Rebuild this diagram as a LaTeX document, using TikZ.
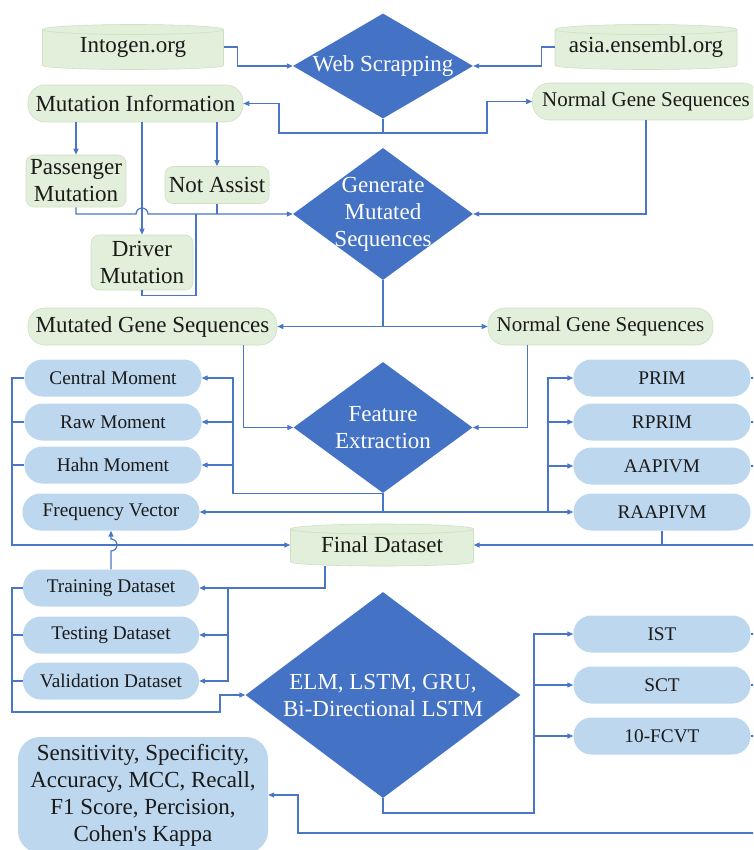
\documentclass[tikz,border=0pt]{standalone}
\usepackage{fontspec}
\setmainfont{Liberation Serif}
\usetikzlibrary{shapes.geometric,arrows.meta,calc}
\definecolor{gfill}{HTML}{E2EFDA}
\definecolor{gline}{HTML}{CFE0C3}
\definecolor{bfill}{HTML}{BDD7EE}
\definecolor{dfill}{HTML}{4472C4}
\definecolor{lc}{HTML}{4A76C6}
\definecolor{tc}{HTML}{1A1A1A}
\newcommand\bigfnt{\fontsize{23}{27}\selectfont}
\newcommand\midfnt{\fontsize{21}{25}\selectfont}
\newcommand\smfnt{\fontsize{19.3}{23}\selectfont}
\newcommand\greencyl[6]{%
  \path[fill=gfill,draw=gline,line width=0.6pt]
    (#2-#4/2,#3+#5/2-5) -- (#2-#4/2,#3-#5/2+4)
    arc[start angle=180,end angle=360,x radius=#4/2,y radius=4]
    -- (#2+#4/2,#3+#5/2-5)
    arc[start angle=0,end angle=180,x radius=#4/2,y radius=5] -- cycle;
  \draw[gline,line width=0.6pt] (#2-#4/2,#3+#5/2-5) arc[start angle=180,end angle=360,x radius=#4/2,y radius=5];
  \node[cyltext,minimum width=#4pt,minimum height=#5pt] (#1) at (#2,#3) {#6};
}
\begin{document}
\begin{tikzpicture}[x=1pt,y=1pt,
  conn/.style={draw=lc,line width=1.2pt},
  arr/.style={conn,-{Triangle[length=6pt,width=5pt]}},
  gbox/.style={rectangle,rounded corners=#1,fill=gfill,draw=gline,line width=0.6pt,inner sep=0pt,align=center,text=tc,font=\bigfnt},
  gbox/.default=17pt,
  bbox/.style={rectangle,rounded corners=18pt,fill=bfill,draw=none,inner sep=0pt,align=center,text=tc,font=\smfnt,minimum width=177pt,minimum height=37pt},
  dia/.style={diamond,fill=dfill,draw=none,inner sep=0pt},
  dtext/.style={text=white,font=\bigfnt,align=center},
  cyltext/.style={rectangle,inner sep=0pt,text=tc,font=\bigfnt}]
\useasboundingbox (0,0) rectangle (753,-850);
\clip (0,0) rectangle (753,-850);

% ---- nodes ----
\greencyl{into}{133}{-47}{181}{45}{Intogen.org}
\greencyl{asia}{646}{-47}{182}{45}{asia.ensembl.org}
\node[dia,minimum width=180pt,minimum height=105pt,label={[dtext]center:{Web Scrapping}}] (web) at (383,-66) {};
\node[gbox,minimum width=215pt,minimum height=37pt] (mutinfo) at (135.5,-103.5) {Mutation Information};
\node[gbox,minimum width=227pt,minimum height=37pt,font=\midfnt] (ngs1) at (646,-101.5) {Normal Gene Sequences};
\node[gbox=8pt,minimum width=100pt,minimum height=52pt] (pass) at (76,-181) {Passenger\\Mutation};
\node[gbox=8pt,minimum width=104pt,minimum height=37pt] (notas) at (217,-185) {Not Assist};
\node[gbox=8pt,minimum width=102pt,minimum height=55pt] (driver) at (142,-262.5) {Driver\\Mutation};
\node[dia,minimum width=180pt,minimum height=132pt,label={[dtext]center:{Generate\\Mutated\\Sequences}}] (gen) at (383,-214) {};
\node[gbox,minimum width=249pt,minimum height=37pt] (mgs) at (152.5,-326.5) {Mutated Gene Sequences};
\node[gbox,minimum width=225pt,minimum height=37pt,font=\midfnt] (ngs2) at (600.5,-326.5) {Normal Gene Sequences};
\node[dia,minimum width=179pt,minimum height=131pt,label={[dtext]center:{Feature\\Extraction}}] (feat) at (383,-427.5) {};
\node[bbox] (cm) at (113,-378) {Central Moment};
\node[bbox] (rm) at (113,-422) {Raw Moment};
\node[bbox] (hm) at (113,-465) {Hahn Moment};
\node[bbox] (fv) at (111,-512) {Frequency Vector};
\node[bbox] (prim) at (662,-378) {PRIM};
\node[bbox] (rprim) at (662,-422) {RPRIM};
\node[bbox] (aapivm) at (662,-466) {AAPIVM};
\node[bbox] (raapivm) at (662,-512) {RAAPIVM};
\greencyl{final}{382}{-545}{183}{42}{Final Dataset}
\node[bbox,minimum width=176pt] (train) at (111,-588) {Training Dataset};
\node[bbox,minimum width=176pt] (test) at (111,-635) {Testing Dataset};
\node[bbox,minimum width=176pt] (valid) at (111,-681) {Validation Dataset};
\node[dia,minimum width=275pt,minimum height=206pt,label={[dtext]center:{ELM, LSTM, GRU,\\Bi-Directional LSTM}}] (elm) at (383,-695) {};
\node[bbox] (ist) at (662,-634) {IST};
\node[bbox] (sct) at (662,-685) {SCT};
\node[bbox] (fcvt) at (662,-736) {10-FCVT};
\node[bbox,rounded corners=22pt,minimum width=250pt,minimum height=116pt,font=\bigfnt] (metrics) at (143,-795) {Sensitivity, Specificity,\\Accuracy, MCC, Recall,\\F1 Score, Percision,\\Cohen\textquotesingle s Kappa};

% ---- helper coordinates ----
\coordinate (lbus) at (233,-430);
\coordinate (rbus) at (548,-430);
\coordinate (rx) at (758,-500);
\coordinate (lx) at (12,-450);
\coordinate (dbus) at (228,-620);
\coordinate (ebus) at (534,-700);

% ---- connectors ----
\draw[arr] (into.east) -- ++(14,0) |- (web.west);
\draw[arr] (asia.west) -- ++(-13,0) |- (web.east);
\draw[arr] (web.south) |- (279,-133) |- (mutinfo.east);
\draw[arr] (web.south) |- (487,-133) |- (ngs1.west);

\draw[arr] (mutinfo.south -| pass.north) -- (pass.north);
\draw[arr] (mutinfo.south -| driver.north) -- (driver.north);
\draw[arr] (mutinfo.south -| notas.north) -- (notas.north);
\draw[arr] (pass.south) |- ($(driver.north |- gen.west)+(-6,0)$) arc[start angle=180,end angle=0,radius=6] -- (gen.west);
\draw[conn] (notas.south) -- (notas.south |- gen.west);
\draw[conn] (driver.south) -- ++(0,-5) -| (196,-214);
\draw[arr] (ngs1.south) |- (gen.east);

\draw[arr] (gen.south) |- (mgs.east);
\draw[arr] (gen.south) |- (ngs2.west);
\draw[arr] ($(mgs.south east)+(-34,0)$) |- (feat.west);
\draw[arr] ($(ngs2.south west)+(40,0)$) |- (feat.east);

\draw[arr] (feat.south) -| (lbus |- cm.east) -- (cm.east);
\draw[arr] (lbus |- rm.east) -- (rm.east);
\draw[arr] (lbus |- hm.east) -- (hm.east);
\draw[arr] (feat.south) |- (fv.east);
\draw[arr] (feat.south) |- (raapivm.west);
\draw[arr] (rbus |- raapivm.west) |- (prim.west);
\draw[arr] (rbus |- rprim.west) -- (rprim.west);
\draw[arr] (rbus |- aapivm.west) -- (aapivm.west);

\draw[arr] (prim.east) -| (rx |- final.east) -- (final.east);
\draw[conn] (rprim.east) -- (rprim.east -| rx);
\draw[conn] (aapivm.east) -- (aapivm.east -| rx);
\draw[conn] (raapivm.south) -- (raapivm.south |- final.east);

\draw[arr] (cm.west) -| (lx |- final.west) -- (final.west);
\draw[conn] (rm.west) -- (rm.west -| lx);
\draw[conn] (hm.west) -- (hm.west -| lx);

\draw[arr] ($(final.south)+(-57,0)$) |- (dbus |- train.east) -- (train.east);
\draw[arr] (dbus |- train.east) |- (valid.east);
\draw[arr] (dbus |- test.east) -- (test.east);

\draw[arr] (train.north) -- ($(train.north |- final.west)+(0,-6)$) arc[start angle=-90,end angle=90,radius=6] -- (fv.south);

\draw[arr] (train.west) -| (12,-712) -| (220,-695) -- (elm.west);
\draw[conn] (test.west) -- (test.west -| lx);
\draw[conn] (valid.west) -- (valid.west -| lx);

\draw[arr] (elm.south) |- (534,-813) |- (ist.west);
\draw[arr] (ebus |- sct.west) -- (sct.west);
\draw[arr] (ebus |- fcvt.west) -- (fcvt.west);

\draw[arr] (ist.east) -| (758,-833) -| (298,-795) -- (metrics.east);
\draw[conn] (sct.east) -- (sct.east -| rx);
\draw[conn] (fcvt.east) -- (fcvt.east -| rx);
\end{tikzpicture}
\end{document}
